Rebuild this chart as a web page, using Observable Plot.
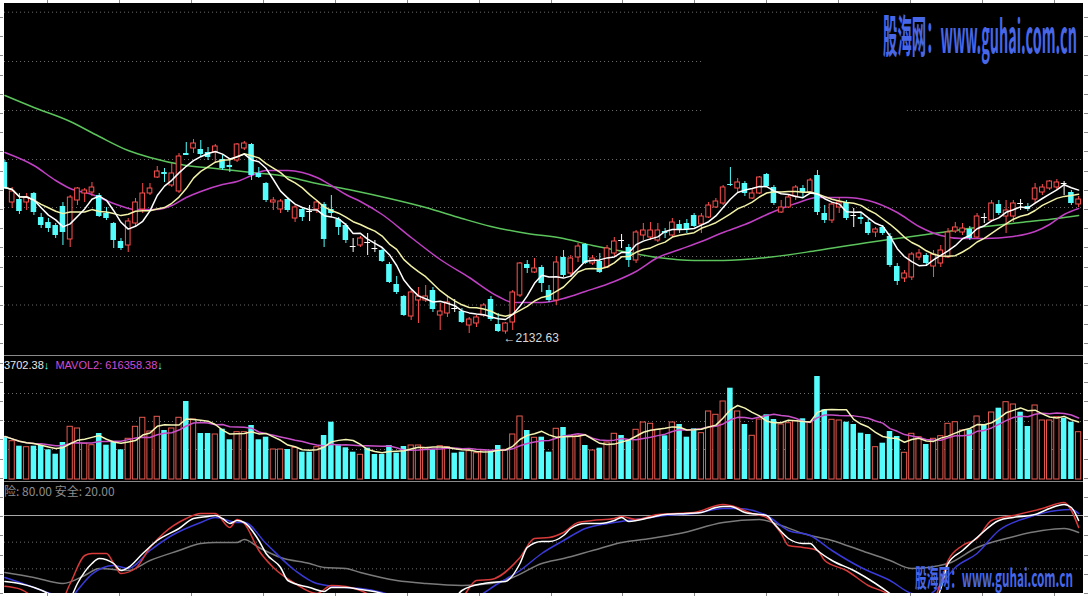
<!DOCTYPE html>
<html><head><meta charset="utf-8">
<script src="https://cdn.jsdelivr.net/npm/d3@7"></script>
<script src="https://cdn.jsdelivr.net/npm/@observablehq/plot@0.6"></script>
<style>
html,body{margin:0;padding:0;background:#fff;}
#wrap{position:relative;width:1088px;height:596px;overflow:hidden;background:#000;}
.panel{position:absolute;left:0;}
.panel svg{display:block;}
.hl{position:absolute;left:0;width:1088px;height:1px;background:#8a8a8a;}
.strip{position:absolute;background:#fff;}
.tick{position:absolute;background:#8a8a8a;}
.lbl{position:absolute;white-space:nowrap;font-family:"Liberation Sans","DejaVu Sans",sans-serif;font-size:11px;line-height:12px;}
</style></head><body>
<div id="wrap">
  <div class="panel" id="price" style="top:0"></div>
  <div class="panel" id="vol" style="top:356px"></div>
  <div class="panel" id="ind" style="top:482px"></div>
  <div class="hl" style="top:355px"></div>
  <div class="hl" style="top:481px"></div>
  <div class="lbl" id="volLbl" style="top:359px;left:4px"></div>
  <div class="lbl" id="indLbl" style="top:485px;left:4px;font-family:'Noto Sans CJK SC',sans-serif;font-size:12px;color:#8c8c8c"></div>
  <div id="strips"></div>
  <svg id="wm" width="1088" height="596" style="position:absolute;left:0;top:0;pointer-events:none"></svg>
</div>
<script>
// ---------- data (one entry per trading day) ----------
const opens = [2476,2396,2402,2396,2414,2366,2356,2350,2388,2322,
2400,2414,2416,2410,2374,2354,2318,2310,2354,2382,
2414,2446,2456,2430,2418,2494,2504,2502,2496,2496,
2482,2470,2480,2504,2512,2454,2434,2396,2382,2402,
2364,2382,2378,2382,2392,2382,2362,2350,2308,2310,
2316,2304,2300,2272,2232,2208,2168,2200,2200,2220,
2170,2174,2184,2178,2150,2154,2170,2202,2152,2138,
2156,2210,2272,2256,2266,2220,2200,2286,2254,2286,
2312,2274,2278,2266,2294,2320,2306,2280,2330,2326,
2320,2338,2330,2352,2354,2370,2352,2366,2386,2394,
2432,2424,2434,2404,2414,2452,2426,2376,2386,2408,
2424,2416,2450,2374,2360,2386,2396,2370,2366,2356,
2336,2346,2328,2268,2244,2246,2286,2290,2268,2274,
2286,2338,2336,2342,2326,2366,2360,2392,2368,2368,
2394,2388,2402,2416,2424,2426,2434,2416,2392];
const closes = [2426,2418,2378,2406,2376,2350,2344,2330,2336,2406,
2424,2420,2426,2368,2364,2320,2304,2358,2396,2414,
2424,2458,2452,2454,2488,2490,2514,2492,2486,2508,
2464,2466,2512,2514,2450,2446,2400,2400,2398,2380,
2386,2366,2378,2396,2322,2374,2346,2320,2308,2324,
2316,2304,2278,2236,2216,2170,2216,2208,2208,2182,
2178,2196,2184,2156,2162,2166,2190,2162,2138,2154,
2216,2274,2264,2264,2234,2200,2276,2250,2284,2308,
2274,2284,2256,2304,2318,2320,2280,2336,2340,2340,
2340,2334,2356,2340,2342,2348,2368,2390,2398,2426,
2430,2436,2414,2414,2446,2428,2394,2386,2406,2426,
2416,2440,2376,2360,2392,2396,2364,2370,2362,2334,
2342,2334,2270,2238,2254,2292,2294,2274,2292,2300,
2336,2346,2344,2324,2368,2366,2394,2374,2380,2394,
2394,2382,2424,2426,2438,2436,2434,2394,2402];
const highs = [2480,2426,2414,2414,2416,2374,2364,2354,2396,2410,
2426,2424,2436,2414,2386,2356,2324,2364,2404,2434,
2434,2468,2464,2474,2494,2516,2522,2520,2506,2512,
2490,2480,2514,2518,2514,2466,2436,2406,2402,2406,
2390,2386,2390,2400,2396,2410,2366,2354,2324,2328,
2334,2320,2306,2276,2248,2210,2220,2226,2230,2226,
2194,2210,2202,2184,2166,2170,2194,2208,2174,2156,
2220,2276,2280,2284,2270,2230,2288,2300,2290,2314,
2314,2290,2294,2310,2326,2332,2312,2340,2354,2356,
2354,2344,2364,2360,2362,2374,2374,2396,2404,2430,
2466,2444,2438,2424,2448,2454,2430,2400,2410,2430,
2430,2444,2460,2390,2396,2406,2400,2384,2374,2362,
2346,2350,2334,2274,2260,2296,2302,2294,2300,2310,
2344,2356,2354,2348,2374,2374,2400,2400,2400,2400,
2402,2394,2434,2432,2440,2442,2438,2420,2408];
const lows = [2422,2384,2372,2380,2370,2344,2336,2324,2310,2306,
2390,2396,2408,2366,2360,2304,2300,2296,2346,2374,
2410,2444,2436,2426,2414,2490,2494,2486,2480,2474,
2460,2456,2476,2500,2440,2444,2396,2380,2374,2376,
2356,2358,2358,2374,2306,2366,2330,2314,2296,2306,
2290,2296,2276,2234,2212,2168,2160,2154,2196,2176,
2140,2166,2176,2154,2134,2146,2166,2158,2136,2132.63,
2140,2206,2254,2254,2216,2196,2190,2246,2246,2276,
2272,2270,2254,2264,2286,2304,2266,2274,2320,2320,
2316,2324,2326,2334,2334,2346,2334,2364,2384,2390,
2428,2416,2408,2402,2412,2426,2390,2374,2384,2400,
2406,2414,2370,2354,2354,2374,2360,2346,2352,2330,
2326,2330,2266,2230,2236,2240,2280,2270,2246,2266,
2284,2334,2330,2320,2324,2354,2356,2370,2334,2356,
2380,2378,2394,2410,2420,2420,2410,2390,2386];
const volumes = [430000,383000,333000,323000,333000,340000,297000,253000,370000,527000,
510000,357000,343000,460000,343000,373000,297000,407000,527000,617000,
480000,627000,490000,510000,617000,780000,600000,460000,460000,450000,
503000,397000,473000,473000,540000,397000,423000,300000,300000,300000,
317000,273000,273000,323000,440000,573000,347000,317000,273000,247000,
313000,250000,250000,340000,263000,330000,340000,340000,317000,297000,
333000,323000,263000,273000,283000,263000,290000,283000,340000,297000,
450000,630000,490000,417000,423000,273000,507000,520000,433000,433000,
340000,290000,313000,370000,457000,440000,397000,497000,570000,557000,
497000,437000,570000,550000,423000,507000,463000,680000,647000,780000,
913000,680000,550000,437000,600000,647000,600000,550000,563000,583000,
607000,573000,1030000,697000,597000,590000,573000,550000,463000,450000,
323000,363000,480000,430000,267000,457000,423000,350000,407000,433000,
557000,573000,490000,497000,630000,550000,670000,713000,773000,750000,
673000,530000,740000,590000,590000,623000,613000,573000,473000];
// long moving averages: [day, value]
const ma20Pts = [[0,2496],[4,2470],[7,2440],[9,2424],[12,2412],[15,2394],[18,2382],[21,2382],[23,2390],[25,2406],[27,2418],[30,2432],[32,2438],[34,2450],[36,2460],[39,2460],[41,2456],[43,2446],[45,2430],[47,2412],[49,2398],[52,2372],[56,2326],[60,2282],[64,2246],[68,2208],[70,2196],[74,2196],[77,2204],[80,2218],[84,2238],[87,2258],[90,2286],[93,2302],[96,2318],[99,2336],[102,2352],[106,2378],[109,2394],[112,2406],[116,2406],[119,2400],[123,2376],[126,2348],[129,2330],[132,2324],[135,2324],[139,2328],[142,2338],[144,2352],[146,2372],[148,2384]];
const ma60Pts = [[0,2610],[4,2586],[9,2558],[13,2528],[17,2500],[20,2486],[25,2470],[29,2464],[34,2456],[38,2450],[43,2434],[48,2420],[53,2404],[58,2386],[63,2364],[67,2348],[72,2334],[77,2324],[81,2310],[86,2296],[90,2286],[95,2280],[99,2280],[105,2286],[112,2300],[119,2316],[124,2326],[129,2336],[134,2346],[140,2356],[145,2364],[148,2370]];
// indicator lines: [day, value]
const kPts = [[0,30.5],[2,29],[6,21.5],[8,15],[9,18],[10,29],[12,44],[13,47.75],[15,44],[16,38.75],[17,41],[19,51.5],[21,61.25],[24,70.25],[26,77.75],[28,79.25],[29,80],[30,77.75],[31,74],[32,76.25],[33,74.75],[35,61.25],[36,51.5],[38,41],[39,31.25],[42,26],[44,23],[45,26],[47,26],[49,24.5],[52,21.5],[55,14],[58,10],[61,12],[63,23.75],[66,29],[67,29.75],[69,30.5],[71,44],[72,56],[74,60.5],[75,60.5],[77,65],[78,70.25],[80,74],[82,74],[84,76.25],[85,78.5],[86,75.5],[89,78.5],[91,80.75],[94,81.5],[96,82.25],[98,86],[99,86.75],[100,86.75],[102,82.25],[105,80],[106,74],[108,62.75],[110,59],[111,59],[112,53.75],[114,46.25],[117,38.75],[120,29],[122,21.5],[124,14],[126,10],[128,13],[129,25],[130,44],[132,53.75],[134,63.5],[137,76.25],[139,78.5],[142,80.75],[144,85.25],[146,88.25],[147,86],[148,76.25]];
const jPts = [[0,27],[2,25],[5,15],[7,8],[9,29],[11,50],[12,51.5],[14,51.5],[15,44],[16,36.5],[18,40.25],[20,56],[22,67.25],[25,77.75],[27,81.5],[29,81.5],[31,71],[32,77],[33,74],[35,53.75],[37,41],[40,29],[43,21.5],[45,27.5],[47,26.75],[49,23.75],[52,15],[56,5],[60,8],[63,18],[65,31.25],[67,32],[71,48.5],[73,62.75],[75,63.5],[77,67.25],[79,74.75],[81,76.25],[84,77.75],[85,79.25],[87,77],[90,80.75],[95,82.25],[99,88.25],[100,87.5],[103,81.5],[105,78.5],[107,66.5],[108,57.5],[110,56],[112,53.75],[113,46.25],[116,38.75],[119,27.5],[122,20],[124,8],[127,5],[129,30],[130,46.25],[132,57.5],[134,62.75],[136,76.25],[139,80],[143,85.25],[146,89.75],[147,83.75],[148,71]];
const dPts = [[0,33.5],[3,28],[6,22],[9,18],[10,24],[12,36],[15,42.5],[17,40.25],[20,53.75],[23,65],[27,74.75],[29,78.5],[32,74.75],[33,74.75],[36,59],[40,38.75],[43,29],[47,26],[49,25.25],[52,22.25],[56,15],[60,12],[64,16],[68,29],[71,38.75],[74,51.5],[77,61.25],[80,70.25],[84,74.75],[88,77.75],[91,80],[95,81.5],[99,85.25],[101,85.25],[105,80],[108,68.75],[111,65],[114,53.75],[118,41],[122,31.25],[125,21.5],[127,20],[129,28],[131,41],[134,51.5],[137,68.75],[141,78.5],[145,83.75],[147,84.5],[148,81.5]];
const slowPts = [[0,37.25],[4,33.5],[8,29],[11,35],[13,40.25],[17,38.75],[20,46.25],[24,53.75],[27,59],[29,59.75],[32,59.75],[33,62],[35,56],[38,48.5],[42,44],[44,41],[47,40.25],[49,37.25],[54,31.25],[58,29],[63,27.5],[67,29],[70,33.5],[74,44],[77,47.75],[81,53.75],[85,59.75],[89,62.75],[93,66.5],[99,74.75],[104,77],[107,72.5],[110,66.5],[114,61.25],[118,53.75],[122,46.25],[125,40.25],[130,44],[134,56],[138,62.75],[143,68.75],[146,70.25],[148,67.25]];
// grid levels (price grid segments: level, first day, last day)
const priceGrid = [[2776.6,-0.6,120.7],[2678,-0.6,96.3],[2580,-0.6,96.3],[2580,124.4,149],[2482,-0.6,149],[2386,-0.6,149],[2288,-0.6,149],[2191,-0.6,149]];
const volGrid = [860000,580000,300000];
const indSolid = [80];
const indDotted = [60,40,20];
const volText = [["3702.38","#e8e8e8"],["↓","#54fcfc"],["  MAVOL2: 616358.38","#d24cd2"],["↓","#54fcfc"]];
const indText = "险: 80.00 安全: 20.00";
const watermark = "股海网：www.guhai.com.cn";

// ---------- drawing ----------
const RED = "#ff5050", CYAN = "#54fcfc";
const xDomain = [-0.6065, 149.36];
const candles = opens.map((o, i) => ({i, open: o, high: highs[i], low: lows[i], close: closes[i], volume: volumes[i]}));
const up = candles.filter(d => d.close > d.open);
const down = candles.filter(d => d.close < d.open);
const doji = candles.filter(d => d.close === d.open);
const volUp = up, volDown = candles.filter(d => d.close <= d.open);
const lowest = candles.reduce((a, b) => b.low < a.low ? b : a);
const base = {width: 1088, margin: 0, x: {domain: xDomain, axis: null}, style: {background: "#000", overflow: "hidden"}};

const pricePlot = Plot.plot({...base, height: 355,
  y: {domain: [2090, 2800], axis: null},
  marks: [
    Plot.ruleY(priceGrid, {y: d => d[0], x1: d => d[1], x2: d => d[2], stroke: "#6e6e6e", strokeDasharray: "1,3"}),
    Plot.line(ma60Pts, {x: d => d[0], y: d => d[1], stroke: "#5cc45c", curve: "monotone-x"}),
    Plot.line(ma20Pts, {x: d => d[0], y: d => d[1], stroke: "#c040c4", curve: "monotone-x"}),
    Plot.ruleX(up, {x: "i", y1: "low", y2: "high", stroke: RED}),
    Plot.ruleX(down, {x: "i", y1: "low", y2: "high", stroke: CYAN}),
    Plot.ruleX(doji, {x: "i", y1: "low", y2: "high", stroke: "#fff"}),
    Plot.rect(up, {x1: d => d.i - 0.32, x2: d => d.i + 0.32, y1: "open", y2: "close", fill: "#000", stroke: RED}),
    Plot.rect(down, {x1: d => d.i - 0.38, x2: d => d.i + 0.38, y1: "open", y2: "close", fill: CYAN}),
    Plot.ruleY(doji, {y: "close", x1: d => d.i - 0.4, x2: d => d.i + 0.4, stroke: "#fff"}),
    Plot.lineY(candles, Plot.windowY({k: 10, anchor: "end"}, {x: "i", y: "close", stroke: "#f2f2a8"})),
    Plot.lineY(candles, Plot.windowY({k: 5, anchor: "end"}, {x: "i", y: "close", stroke: "#ffffff"})),
    Plot.text([lowest], {x: "i", y: "low", text: d => "←" + d.low.toFixed(2), textAnchor: "start", dx: -2, dy: 4, fill: "#d8d8d8", fontSize: 12, fontFamily: "Liberation Sans, DejaVu Sans, sans-serif"})
  ]});
document.getElementById("price").append(pricePlot);

const volPlot = Plot.plot({...base, height: 125, marginBottom: 2,
  y: {domain: [0, 1230000], axis: null},
  marks: [
    Plot.ruleY(volGrid, {stroke: "#6e6e6e", strokeDasharray: "1,3"}),
    Plot.rect(volUp, {x1: d => d.i - 0.36, x2: d => d.i + 0.36, y1: 0, y2: "volume", fill: "#000", stroke: "#e85a50"}),
    Plot.rect(volDown, {x1: d => d.i - 0.38, x2: d => d.i + 0.38, y1: 0, y2: "volume", fill: CYAN}),
    Plot.lineY(candles, Plot.windowY({k: 10, anchor: "end"}, {x: "i", y: "volume", stroke: "#c850c8"})),
    Plot.lineY(candles, Plot.windowY({k: 5, anchor: "end"}, {x: "i", y: "volume", stroke: "#f4f4b4"}))
  ]});
document.getElementById("vol").append(volPlot);

const indPlot = Plot.plot({...base, height: 114,
  y: {domain: [19.25, 104.75], axis: null},
  marks: [
    Plot.ruleY(indDotted, {stroke: "#6e6e6e", strokeDasharray: "1,3"}),
    Plot.ruleY(indSolid, {stroke: "#a8a8a8"}),
    Plot.line(slowPts, {x: d => d[0], y: d => d[1], stroke: "#7a7a7a", curve: "monotone-x", clip: true}),
    Plot.line(dPts, {x: d => d[0], y: d => d[1], stroke: "#3a3ad8", curve: "monotone-x", clip: true}),
    Plot.line(jPts, {x: d => d[0], y: d => d[1], stroke: "#d83a3a", curve: "monotone-x", clip: true}),
    Plot.line(kPts, {x: d => d[0], y: d => d[1], stroke: "#ffffff", curve: "monotone-x", clip: true})
  ]});
document.getElementById("ind").append(indPlot);

// labels
const vl = document.getElementById("volLbl");
volText.forEach(([t, c]) => { const s = document.createElement("span"); s.textContent = t; s.style.color = c; s.style.whiteSpace = "pre"; vl.append(s); });
document.getElementById("indLbl").textContent = indText;

// frame strips of the trading window
const st = document.getElementById("strips");
function box(l, t, w, h, cls) { const d = document.createElement("div"); d.className = cls; Object.assign(d.style, {left: l + "px", top: t + "px", width: w + "px", height: h + "px"}); st.append(d); }
box(0, 0, 1088, 3, "strip"); box(0, 593, 1088, 3, "strip");
box(0, 0, 4, 596, "strip"); box(1083, 0, 5, 596, "strip");
for (let k = 0; k < 15; k++) { const x = Math.round(47 + 71.93 * k); box(x, 0, 1, 3, "tick"); box(x, 593, 1, 3, "tick"); }
for (let y = 17; y < 596; y += 19.2) { box(0, Math.round(y), 3, 1, "tick"); box(1084, Math.round(y), 4, 1, "tick"); }

// watermarks: condensed by a horizontal scale to the width seen in the picture
const wm = d3.select("#wm");
function stamp(x, y, size, width) {
  const t = wm.append("text").attr("x", 0).attr("y", 0).attr("font-size", size).attr("font-weight", 700)
    .attr("font-family", "Noto Sans CJK SC, sans-serif").attr("fill", "#4767e8").text(watermark);
  const w = t.node().getComputedTextLength();
  t.attr("transform", `translate(${x},${y}) scale(${width / w},1)`);
}
stamp(883, 53, 45, 194);
stamp(915, 587, 25, 158);
</script>
</body></html>
